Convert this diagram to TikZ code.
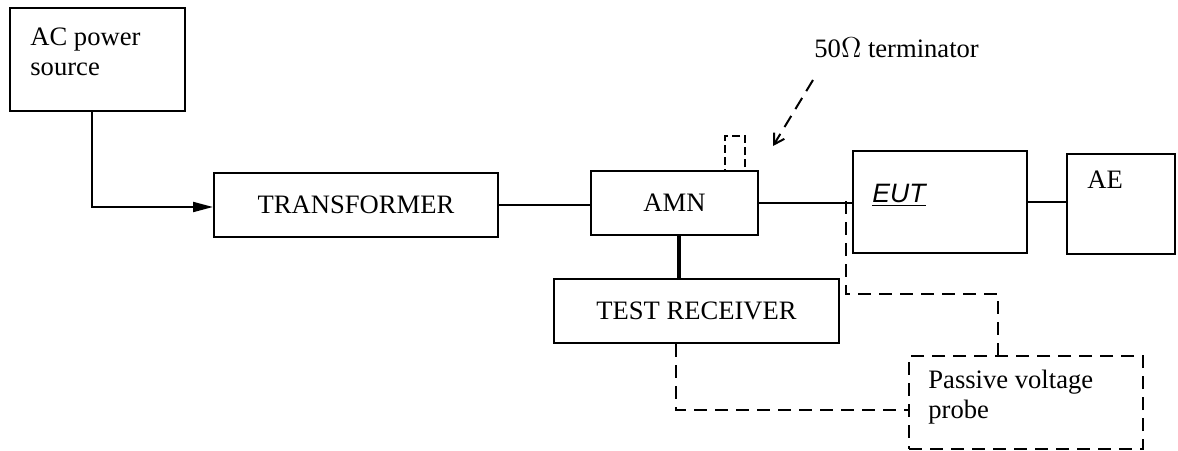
\documentclass[tikz,border=0pt]{standalone}
\usepackage{fontspec}
\setmainfont{Liberation Serif}
\newfontfamily\arialfont{Liberation Sans}
\usetikzlibrary{arrows.meta}
\begin{document}
\begin{tikzpicture}[x=0.5pt,y=-0.5pt,
  box/.style={draw,line width=1pt,inner sep=0pt,anchor=north west,font=\fontsize{13.3}{15}\selectfont},
  dbox/.style={box,dash pattern=on 6.5pt off 4pt},
  lbl/.style={inner sep=0pt,font=\fontsize{13.3}{15}\selectfont},
  wire/.style={line width=1pt},
  thickwire/.style={line width=2pt},
  dashline/.style={line width=1pt,dash pattern=on 6.5pt off 4pt},
]
\useasboundingbox (0,0) rectangle (1178,450);

% boxes
\node[box,minimum width=87.5pt,minimum height=51.5pt] (ac) at (9,7) {};
\node[box,minimum width=142pt,minimum height=32pt] (tr) at (213,172) {TRANSFORMER};
\node[box,minimum width=83.5pt,minimum height=32pt] (amn) at (590,170) {AMN};
\node[box,minimum width=87pt,minimum height=51pt] (eut) at (852,150) {};
\node[box,minimum width=54pt,minimum height=50pt] (ae) at (1066,153) {};
\node[box,minimum width=142.5pt,minimum height=32pt] (rx) at (553,278) {TEST RECEIVER};
\node[dbox,minimum width=117pt,minimum height=46.5pt] (probe) at (908,355) {};
\node[dbox,dash pattern=on 4pt off 2pt,minimum width=10pt,minimum height=17.5pt] (term) at (724,135) {};

% texts
\node[lbl,anchor=base west,text width=80pt,align=flush left] (actext) at (30,45) {AC power\\source};
\node[lbl,anchor=base west] (euttext) at (872,202) {\arialfont\underline{\itshape EUT}};
\node[lbl,anchor=base west] (aetext) at (1087,188) {AE};
\node[lbl,anchor=base west,text width=110pt,align=flush left] (probetext) at (928,388) {Passive voltage\\probe};
\node[lbl,anchor=base west] (termtext) at (814,57) {50\(\Omega\) terminator};

% connectors
\coordinate (bend) at (92,207);
\draw[wire,-{Triangle[length=10pt,width=5pt]}] (ac.south -| bend) -- (bend) -- (tr.west |- bend);
\draw[wire] (tr.east) -- (tr.east -| amn.west);
\draw[wire] (amn.east) -- (amn.east -| eut.west);
\draw[wire] (eut.east) -- (eut.east -| ae.west);
\coordinate (drop) at (679,250);
\draw[thickwire] (drop |- amn.south) -- (drop |- rx.north);

\coordinate (tap) at (846,201);
\coordinate (c1) at (998,294);
\draw[dashline] (tap) |- (c1) -- (c1 |- probe.north);
\coordinate (c2) at (676,410);
\draw[dashline] (c2 |- rx.south) -- (c2) -- (c2 -| probe.west);

\coordinate (tstart) at (813,80);
\coordinate (tend) at (773,146);
\draw[dashline,-{Straight Barb[length=5pt,width=6pt]}] (tstart) -- (tend);
\end{tikzpicture}
\end{document}
